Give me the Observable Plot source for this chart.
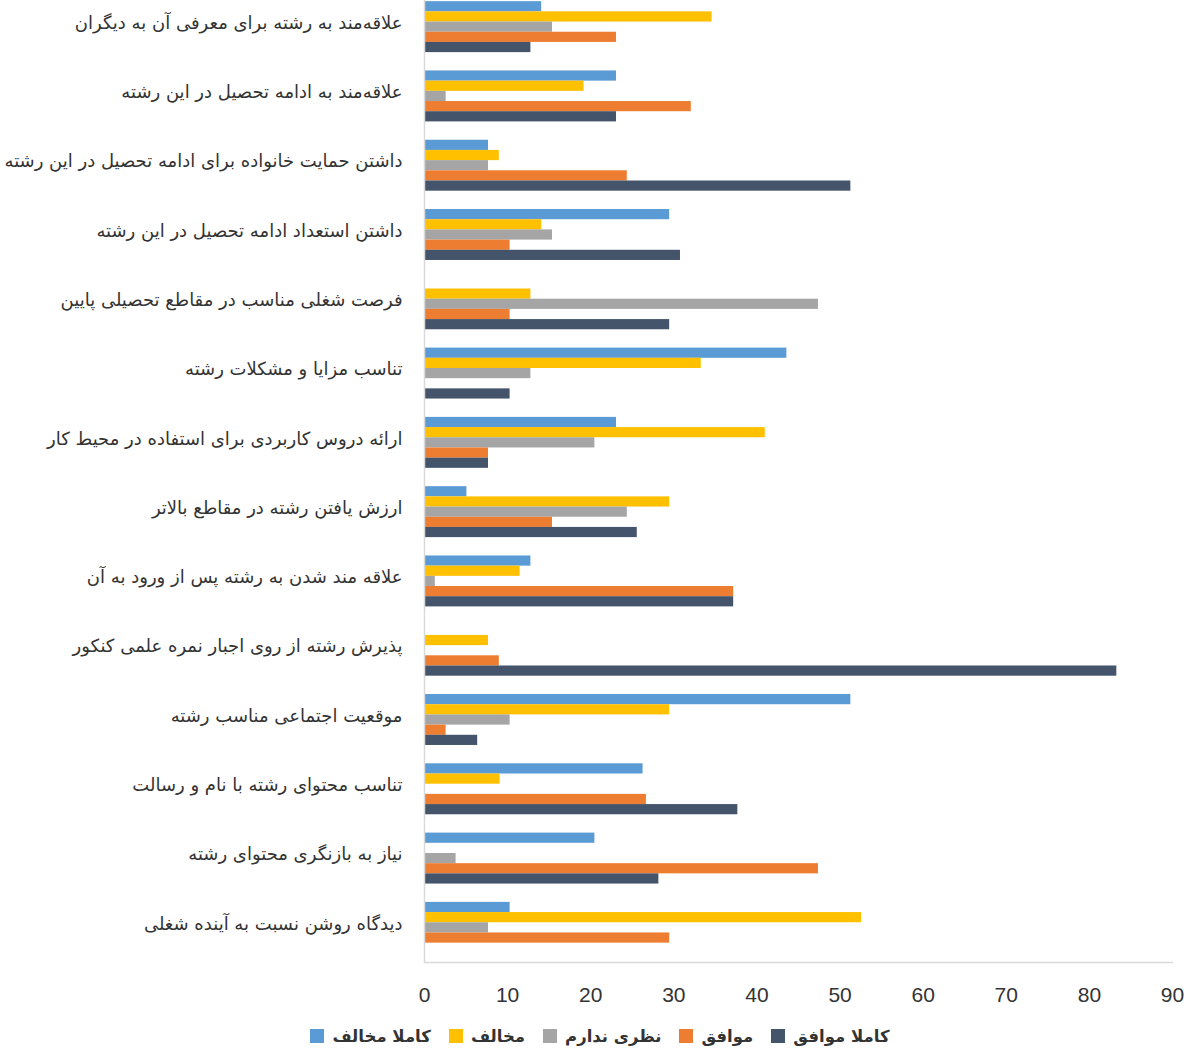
<!DOCTYPE html>
<html>
<head>
<meta charset="utf-8">
<script src="https://cdn.jsdelivr.net/npm/d3@7"></script>
<script src="https://cdn.jsdelivr.net/npm/@observablehq/plot@0.6"></script>
<style>
  body { margin: 0; background: #fff; }
  #legend {
    display: flex; justify-content: center; align-items: center;
    direction: ltr; height: 52px; margin-left: 8px;
    font-family: "DejaVu Sans", sans-serif; font-weight: bold; font-size: 16.5px; color: #333;
  }
  #legend .item { display: flex; align-items: center; margin: 0 9px; }
  #legend .sw { width: 14px; height: 14px; margin-right: 8px; }
  #legend .tx { direction: rtl; }
</style>
</head>
<body>
<div id="chart"></div>
<div id="legend"></div>
<script>
const categories = [
  "علاقه‌مند به رشته برای معرفی آن به دیگران",
  "علاقه‌مند به ادامه تحصیل در این رشته",
  "داشتن حمایت خانواده برای ادامه تحصیل در این رشته",
  "داشتن استعداد ادامه تحصیل در این رشته",
  "فرصت شغلی مناسب در مقاطع تحصیلی پایین",
  "تناسب مزایا و مشکلات رشته",
  "ارائه دروس کاربردی برای استفاده در محیط کار",
  "ارزش یافتن رشته در مقاطع بالاتر",
  "علاقه مند شدن به رشته پس از ورود به آن",
  "پذیرش رشته از روی اجبار نمره علمی کنکور",
  "موقعیت اجتماعی مناسب رشته",
  "تناسب محتوای رشته با نام و رسالت",
  "نیاز به بازنگری محتوای رشته",
  "دیدگاه روشن نسبت به آینده شغلی"
];
const seriesNames = ["کاملا مخالف", "مخالف", "نظری ندارم", "موافق", "کاملا موافق"];
const seriesColors = ["#5B9BD5", "#FFC000", "#A5A5A5", "#ED7D31", "#44546A"];

const completelyDisagree = [14.1, 23.1, 7.7, 29.5, 0, 43.6, 23.1, 5.1, 12.8, 0, 51.3, 26.3, 20.5, 10.3];
const disagree           = [34.6, 19.2, 9.0, 14.1, 12.8, 33.3, 41.0, 29.5, 11.5, 7.7, 29.5, 9.1, 0, 52.6];
const noOpinion          = [15.4, 2.6, 7.7, 15.4, 47.4, 12.8, 20.5, 24.4, 1.3, 0, 10.3, 0, 3.8, 7.7];
const agree              = [23.1, 32.1, 24.4, 10.3, 10.3, 0, 7.7, 15.4, 37.2, 9.0, 2.6, 26.7, 47.4, 29.5];
const completelyAgree    = [12.8, 23.1, 51.3, 30.8, 29.5, 10.3, 7.7, 25.6, 37.2, 83.3, 6.4, 37.7, 28.2, 0];

const xTicks = [0, 10, 20, 30, 40, 50, 60, 70, 80, 90];

const seriesValues = [completelyDisagree, disagree, noOpinion, agree, completelyAgree];
const data = [];
categories.forEach((c, i) => {
  seriesValues.forEach((vals, j) => {
    data.push({category: c, series: seriesNames[j], value: vals[i]});
  });
});

const chart = Plot.plot({
  width: 1192,
  height: 1010,
  marginTop: -8,
  marginBottom: 48,
  marginLeft: 424,
  marginRight: 20,
  style: {fontFamily: "DejaVu Sans, sans-serif", color: "#404040", background: "#fff"},
  x: {domain: [0, 90], ticks: xTicks},
  y: {domain: seriesNames, axis: null, paddingInner: 0, paddingOuter: 0.9, round: false},
  fy: {domain: categories, padding: 0, label: null, round: false},
  color: {domain: seriesNames, range: seriesColors},
  marks: [
    Plot.barX(data, {x: "value", y: "series", fy: "category", fill: "series"}),
    Plot.ruleX([0], {stroke: "#d9d9d9", strokeWidth: 1.5}),
    Plot.frame({anchor: "bottom", stroke: "#d9d9d9", strokeWidth: 1.5, facetAnchor: "bottom"}),
    Plot.axisX({ticks: xTicks, tickSize: 0, tickPadding: 25, fontSize: 21, label: null,
      fontFamily: "Liberation Sans, sans-serif", fill: "#333"}),
    Plot.axisFy({anchor: "left", tickSize: 0, tickPadding: 22, fontSize: 18, dy: -4, label: null, fill: "#333"})
  ]
});
document.getElementById("chart").appendChild(chart);

const legend = document.getElementById("legend");
seriesNames.forEach((name, j) => {
  const item = document.createElement("div");
  item.className = "item";
  const sw = document.createElement("span");
  sw.className = "sw";
  sw.style.background = seriesColors[j];
  const tx = document.createElement("span");
  tx.className = "tx";
  tx.textContent = name;
  item.appendChild(sw);
  item.appendChild(tx);
  legend.appendChild(item);
});
</script>
</body>
</html>
